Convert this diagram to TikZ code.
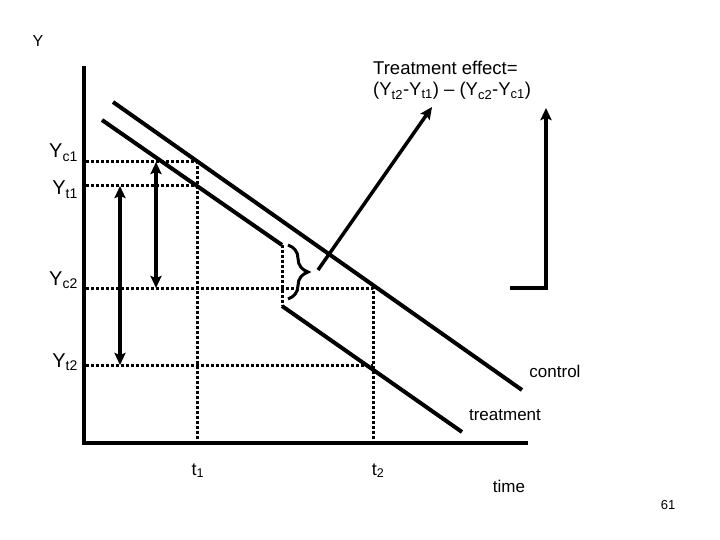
\documentclass[tikz,border=0pt]{standalone}
\usepackage{fontspec}
\setmainfont{Liberation Sans}
\usetikzlibrary{arrows.meta,positioning,decorations.pathreplacing}

\begin{document}
\begin{tikzpicture}[
    x=1pt, y=-1pt,
    every node/.style={inner sep=0pt, font=\fontsize{17}{20}\selectfont},
    axis/.style={line width=4pt, line join=miter},
    trend/.style={line width=4pt},
    guide/.style={line width=3pt, dash pattern=on 3pt off 2pt},
    tip/.style={-{Stealth[length=12pt,width=11pt,inset=2pt]}},
    gap/.style={line width=3.5pt, {Stealth[length=12pt,width=11pt,inset=2pt]}-{Stealth[length=12pt,width=11pt,inset=2pt]}},
    ylab/.style={anchor=base east, font=\fontsize{20}{24}\selectfont},
    efftext/.style={anchor=base west, font=\fontsize{18.5}{22}\selectfont}
  ]
    \useasboundingbox (0,0) rectangle (720,540);

    \coordinate (ytop) at (84,66);
    \coordinate (orig) at (84,443);
    \coordinate (xend) at (528,443);
    \coordinate (cA) at (113,102);
    \coordinate (cB) at (522,390);
    \coordinate (tA) at (102,120);
    \coordinate (tB) at (282,245);
    \coordinate (tC) at (282,306);
    \coordinate (tD) at (462,432);
    \coordinate (yc1a) at (86,162);
    \coordinate (yc1b) at (197,162);
    \coordinate (yt1a) at (86,186);
    \coordinate (yt1b) at (197,186);
    \coordinate (yc2a) at (86,288);
    \coordinate (yc2b) at (373,288);
    \coordinate (yt2a) at (86,365);
    \coordinate (yt2b) at (373,365);
    \coordinate (t1low) at (197,441);
    \coordinate (t2low) at (373,441);
    \coordinate (bTop) at (288,245);
    \coordinate (bBot) at (288,299);
    \coordinate (bTip) at (318,270);
    \coordinate (effTip) at (432,107);
    \coordinate (lA) at (510,288);
    \coordinate (lB) at (546,288);
    \coordinate (lC) at (546,108);

    \draw[axis] (ytop) -- (orig) -- (xend);
    \draw[trend] (cA) -- (cB);
    \draw[trend] (tA) -- (tB);
    \draw[trend] (tC) -- (tD);
    \draw[guide] (tB) -- (tC);
    \draw[guide] (yc1a) -- (yc1b) -- (t1low);
    \draw[guide] (yt1a) -- (yt1b);
    \draw[guide] (yc2a) -- (yc2b) -- (t2low);
    \draw[guide] (yt2a) -- (yt2b);

    \draw[gap] (120,186) -- (120,365);
    \draw[gap] (156,162) -- (156,288);

    \draw[line width=3pt, decorate, decoration={brace, amplitude=20pt}] (bTop) -- (bBot);
    \draw[line width=3.5pt, tip] (bTip) -- (effTip);
    \draw[line width=4pt, tip] (lA) -- (lB) -- (lC);

    \node[anchor=base, font=\fontsize{16}{19}\selectfont] (ylab) at (38,47) {Y};
    \node[ylab] (yc1) at (78,158) {Y\textsubscript{c1}};
    \node[ylab] (yt1) at (78,195) {Y\textsubscript{t1}};
    \node[ylab] (yc2) at (78,285) {Y\textsubscript{c2}};
    \node[ylab] (yt2) at (78,367) {Y\textsubscript{t2}};
    \node[efftext] (effA) at (373,75) {Treatment effect=};
    \node[efftext] (effB) at (373,96) {(Y\textsubscript{t2}-Y\textsubscript{t1}) -- (Y\textsubscript{c2}-Y\textsubscript{c1})};
    \node[anchor=base] (ctrl) at (555,377) {control};
    \node[anchor=base] (treat) at (505,420) {treatment};
    \node[anchor=base, font=\fontsize{18}{21}\selectfont] (t1) at (198,475) {t\textsubscript{1}};
    \node[anchor=base, font=\fontsize{18}{21}\selectfont] (t2) at (378,475) {t\textsubscript{2}};
    \node[anchor=base] (time) at (509,492) {time};
    \node[anchor=base, font=\fontsize{13}{16}\selectfont] (page) at (668,509) {61};
  \end{tikzpicture}
\end{document}
